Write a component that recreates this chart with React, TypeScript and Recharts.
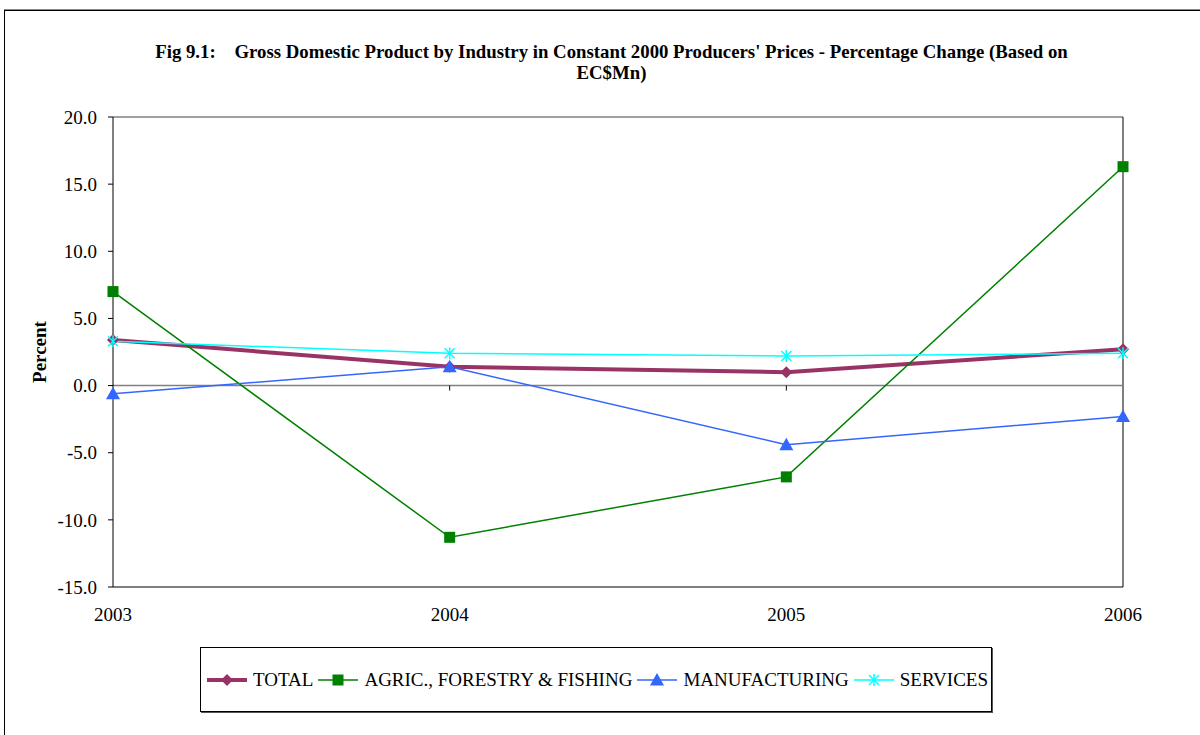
import React from "react";
import {
  LineChart,
  Line,
  XAxis,
  YAxis,
  ReferenceLine,
  ReferenceDot,
} from "recharts";

const years = ["2003", "2004", "2005", "2006"];
const total = [3.4, 1.4, 1.0, 2.7];
const agric = [7.0, -11.3, -6.8, 16.3];
const manuf = [-0.6, 1.4, -4.4, -2.3];
const services = [3.3, 2.4, 2.2, 2.4];
const yTicks = [-15, -10, -5, 0, 5, 10, 15, 20];

const FONT = "'Times New Roman', 'Liberation Serif', serif";

const data = years.map((year, i) => ({
  year,
  total: total[i],
  agric: agric[i],
  manuf: manuf[i],
  services: services[i],
}));

const series = [
  { key: "total", name: "TOTAL", color: "#993366", width: 4, marker: "diamond" },
  { key: "agric", name: "AGRIC., FORESTRY & FISHING", color: "#008000", width: 1.5, marker: "square" },
  { key: "manuf", name: "MANUFACTURING", color: "#3366FF", width: 1.5, marker: "triangle" },
  { key: "services", name: "SERVICES", color: "#00FFFF", width: 1.5, marker: "star" },
];

function Marker({ type, cx, cy, color }: any) {
  if (cx == null || cy == null) return null;
  if (type === "diamond") {
    const s = 6;
    return <polygon points={`${cx},${cy - s} ${cx + s},${cy} ${cx},${cy + s} ${cx - s},${cy}`} fill={color} />;
  }
  if (type === "square") {
    const s = 5.5;
    return <rect x={cx - s} y={cy - s} width={s * 2} height={s * 2} fill={color} />;
  }
  if (type === "triangle") {
    const s = 7;
    return <polygon points={`${cx},${cy - s} ${cx + s},${cy + s * 0.8} ${cx - s},${cy + s * 0.8}`} fill={color} />;
  }
  const s = 5;
  return (
    <g stroke={color} strokeWidth={1.5}>
      <line x1={cx - s} y1={cy - s} x2={cx + s} y2={cy + s} />
      <line x1={cx - s} y1={cy + s} x2={cx + s} y2={cy - s} />
      <line x1={cx} y1={cy - s - 1} x2={cx} y2={cy + s + 1} />
    </g>
  );
}

// legend drawn outside the chart so it doesn't eat into the plot area
function ChartLegend() {
  return (
    <div
      style={{
        position: "absolute",
        left: 200,
        top: 647,
        width: 784,
        height: 63,
        border: "1px solid #000",
        boxShadow: "1px 1px 0 #555",
        display: "flex",
        alignItems: "center",
        paddingLeft: 6,
        whiteSpace: "nowrap",
        overflow: "hidden",
        fontFamily: FONT,
        fontSize: 19,
        color: "#000",
        background: "#fff",
      }}
    >
      {series.map((s) => (
        <div key={s.key} style={{ display: "flex", alignItems: "center", marginRight: 5, flexShrink: 0 }}>
          <svg width={40} height={20} style={{ marginRight: 6, flexShrink: 0 }}>
            <line x1={0} y1={10} x2={40} y2={10} stroke={s.color} strokeWidth={s.width} />
            <Marker type={s.marker} cx={20} cy={10} color={s.color} />
          </svg>
          <span>{s.name}</span>
        </div>
      ))}
    </div>
  );
}

const zeroTick = (props: any) => (
  <line x1={props.cx} y1={props.cy} x2={props.cx} y2={props.cy + 5} stroke="#000" strokeWidth={1} />
);

export default function App() {
  return (
    <div
      style={{
        position: "fixed",
        left: 0,
        top: 0,
        width: 1200,
        height: 735,
        overflow: "hidden",
        background: "#fff",
        fontFamily: FONT,
      }}
    >
      <div
        style={{
          position: "absolute",
          left: 4,
          top: 10,
          width: 1210,
          height: 760,
          border: "1px solid #000",
          boxShadow: "0 -1px 0 #888",
        }}
      />
      <div
        style={{
          position: "absolute",
          left: 0,
          top: 41,
          width: 1223,
          textAlign: "center",
          fontWeight: "bold",
          fontSize: 18.8,
          lineHeight: "21px",
          whiteSpace: "pre",
        }}
      >
        {"Fig 9.1:    Gross Domestic Product by Industry in Constant 2000 Producers' Prices - Percentage Change (Based on"}
        <br />
        {"EC$Mn)"}
      </div>
      <div
        style={{
          position: "absolute",
          left: 40,
          top: 352,
          transform: "translate(-50%, -50%) rotate(-90deg)",
          fontWeight: "bold",
          fontSize: 19,
          whiteSpace: "nowrap",
        }}
      >
        Percent
      </div>
      <div style={{ position: "absolute", left: 0, top: 0 }}>
        <LineChart
          width={1200}
          height={735}
          data={data}
          margin={{ top: 117, right: 77, bottom: 118, left: 53 }}
        >
          <XAxis
            dataKey="year"
            height={30}
            interval={0}
            axisLine={{ stroke: "#000" }}
            tickLine={false}
            tickSize={0}
            tickMargin={21}
            tick={{ fill: "#000", fontSize: 19, fontFamily: FONT }}
          />
          <YAxis
            width={60}
            domain={[-15, 20]}
            ticks={yTicks}
            interval={0}
            allowDataOverflow
            tickFormatter={(v: number) => v.toFixed(1)}
            axisLine={{ stroke: "#000" }}
            tickLine={{ stroke: "#000" }}
            tickSize={5}
            tickMargin={11}
            tick={{ fill: "#000", fontSize: 19, fontFamily: FONT }}
          />
          <ReferenceLine y={20} stroke="#808080" strokeWidth={1.5} />
          <ReferenceLine x="2006" stroke="#000" />
          <ReferenceLine y={0} stroke="#808080" strokeWidth={1.5} />
          <ReferenceDot x="2004" y={0} shape={zeroTick} />
          <ReferenceDot x="2005" y={0} shape={zeroTick} />
          {series.map((s) => (
            <Line
              key={s.key}
              type="linear"
              dataKey={s.key}
              name={s.name}
              stroke={s.color}
              strokeWidth={s.width}
              isAnimationActive={false}
              dot={(p: any) => <Marker key={`${s.key}-${p.index}`} type={s.marker} cx={p.cx} cy={p.cy} color={s.color} />}
              activeDot={false}
            />
          ))}
        </LineChart>
      </div>
      <ChartLegend />
    </div>
  );
}
